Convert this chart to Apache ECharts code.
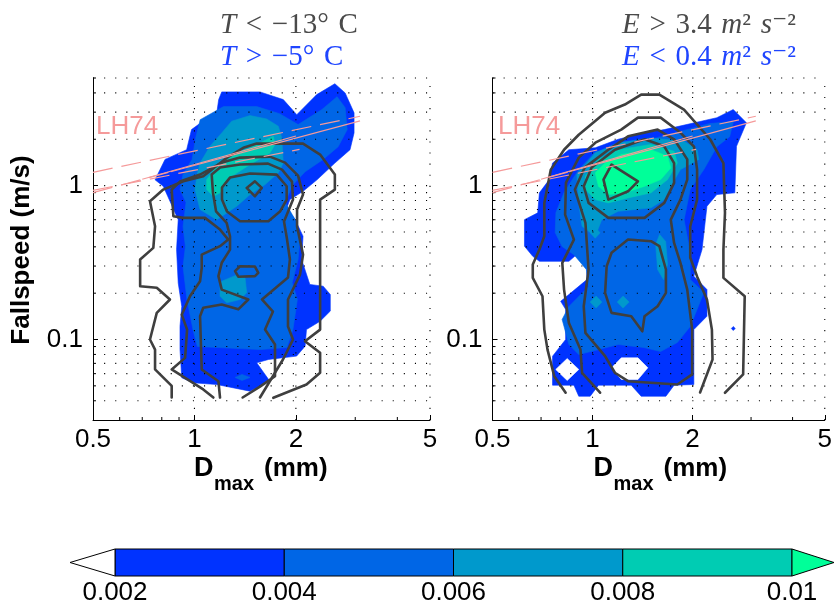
<!DOCTYPE html>
<html>
<head>
<meta charset="utf-8">
<script src="https://cdn.jsdelivr.net/npm/echarts@6/dist/echarts.min.js"></script>
<style>
  html, body { margin: 0; background: #fff; }
  #chart { width: 835px; height: 606px; }
</style>
</head>
<body>
<div id="chart"></div>
<script>
// axes (mm, m/s), both log10
const dRange = [0.5, 5];
const vRange = [0.03, 5];
const dTicks = [0.5, 1, 2, 5];
const vTicks = [0.1, 1];
const dGridVals = [1, 2, 5];
const dMinorTicks = [0.6, 0.7, 0.8, 0.9, 3, 4];
const vGridVals = [0.04, 0.05, 0.06, 0.07, 0.08, 0.09, 0.1, 0.2, 0.3, 0.4, 0.5, 0.6, 0.7, 0.8, 0.9, 1, 2, 3, 4, 5];

// contour levels / colorbar
const cbarBounds = [0.002, 0.004, 0.006, 0.008, 0.01];
const levelColors = ['#0033ff', '#0066e6', '#0099cc', '#00ccb3', '#00ff99'];

// ---- left panel: filled = T > -5 C, lines = T < -13 C  ([Dmax mm, v m/s])
const p1Fill1 = [[1.205,4.06],[1.565,4.06],[1.835,3.62],[2.012,2.89],[2.306,3.90],[2.61,4.59],[2.80,4.0],[2.976,2.97],[2.976,2.20],[2.895,1.71],[2.61,1.40],[2.31,1.09],[2.10,0.918],[1.92,0.811],[1.88,0.717],[1.99,0.601],[2.10,0.469],[2.08,0.331],[2.20,0.228],[2.41,0.222],[2.53,0.196],[2.53,0.153],[2.36,0.1315],[2.15,0.116],[2.13,0.0905],[2.01,0.078],[1.66,0.0742],[1.53,0.0706],[1.66,0.055],[1.565,0.0497],[1.46,0.0462],[1.165,0.051],[0.992,0.0523],[0.917,0.0564],[0.906,0.086],[0.906,0.122],[0.917,0.164],[0.895,0.233],[0.885,0.384],[0.895,0.601],[0.808,0.99],[0.764,1.09],[0.818,1.48],[0.948,1.71],[0.98,2.31],[1.075,2.68],[1.165,2.97],[1.18,3.62]];
const p1Fill2 = [[1.04,2.68],[1.22,3.26],[1.53,3.26],[1.79,2.93],[2.03,2.49],[2.39,3.12],[2.65,3.78],[2.80,3.21],[2.84,2.31],[2.67,1.79],[2.41,1.48],[2.13,1.23],[1.95,1.0],[1.86,0.776],[1.99,0.601],[2.06,0.466],[2.03,0.331],[1.95,0.234],[2.02,0.182],[1.96,0.116],[1.88,0.0887],[1.57,0.086],[1.02,0.090],[0.99,0.116],[0.95,0.182],[0.925,0.298],[0.94,0.402],[0.925,0.542],[0.944,0.776],[0.906,0.942],[0.925,1.18],[0.984,1.48],[1.01,2.08]];
const p1Fill2b = [[1.32,0.0567],[1.384,0.0593],[1.462,0.0567],[1.384,0.0542]];
const p1Fill3 = [[1.112,1.80],[1.205,2.20],[1.29,2.62],[1.462,2.85],[1.638,2.71],[1.774,2.43],[1.816,2.04],[1.835,1.40],[1.774,1.21],[1.62,1.015],[1.462,0.874],[1.335,0.734],[1.164,0.601],[1.039,0.699],[1.004,0.942],[1.016,1.149],[1.039,1.40]];
const p1Fill3b = [[1.205,0.239],[1.32,0.260],[1.413,0.252],[1.429,0.201],[1.365,0.182],[1.246,0.173],[1.191,0.191],[1.191,0.217]];
const p1Fill4 = [[1.087,1.094],[1.164,1.33],[1.304,1.59],[1.462,1.76],[1.601,1.94],[1.714,2.09],[1.734,1.85],[1.675,1.63],[1.462,1.37],[1.246,1.094],[1.191,0.897],[1.138,0.852],[1.087,0.942]];

const p1Line1 = [[0.856,0.042],[0.856,0.050],[0.764,0.064],[0.764,0.086],[0.738,0.100],[0.773,0.149],[0.846,0.182],[0.773,0.217],[0.690,0.222],[0.690,0.331],[0.755,0.394],[0.764,0.544],[0.738,0.791],[0.808,0.942],[0.927,1.066],[1.062,1.149],[1.246,1.513],[1.396,1.76],[1.53,1.874],[2.10,1.874],[2.36,1.59],[2.61,1.179],[2.61,0.942],[2.36,0.811],[2.36,0.384],[2.36,0.116],[2.128,0.0975],[2.36,0.082],[2.36,0.0608],[2.15,0.051],[1.714,0.0418]];
const p1Line2 = [[1.138,0.042],[1.062,0.0474],[0.856,0.0639],[0.938,0.076],[0.951,0.116],[0.917,0.145],[0.970,0.191],[1.039,0.239],[1.051,0.292],[1.051,0.356],[1.191,0.404],[1.26,0.446],[1.191,0.518],[1.075,0.617],[0.927,0.617],[0.866,0.632],[0.856,0.942],[0.906,1.062],[1.039,1.179],[1.207,1.41],[1.365,1.52],[1.675,1.543],[1.857,1.41],[2.03,1.161],[2.10,0.874],[2.016,0.699],[2.016,0.542],[2.10,0.356],[2.057,0.264],[1.895,0.182],[1.895,0.1215],[1.961,0.100],[1.831,0.0742],[1.565,0.042]];
const p1Line3 = [[1.191,0.042],[1.178,0.0536],[1.051,0.0639],[1.039,0.1417],[1.062,0.161],[1.205,0.169],[1.349,0.157],[1.445,0.182],[1.205,0.211],[1.178,0.258],[1.205,0.315],[1.275,0.384],[1.275,0.469],[1.246,0.573],[1.159,0.681],[1.135,0.897],[1.125,1.179],[1.191,1.309],[1.365,1.37],[1.653,1.39],[1.819,1.27],[1.947,1.062],[1.961,0.811],[1.844,0.584],[1.883,0.446],[1.92,0.331],[1.895,0.253],[1.586,0.182],[1.71,0.152],[1.62,0.116],[1.734,0.0928],[1.734,0.0577],[1.565,0.0494],[1.39,0.042]];
const p1Line4 = [[1.207,0.811],[1.249,0.678],[1.365,0.586],[1.657,0.586],[1.794,0.678],[1.878,0.811],[1.878,0.99],[1.754,1.179],[1.462,1.197],[1.275,1.127],[1.207,0.971],[1.207,0.811]];
const p1Line5 = [[1.32,0.278],[1.365,0.299],[1.512,0.298],[1.547,0.271],[1.512,0.258],[1.349,0.256],[1.32,0.278]];
const p1Line6 = [[1.429,0.966],[1.512,1.066],[1.584,0.966],[1.512,0.852],[1.429,0.966]];

// ---- right panel: filled = E < 0.4, lines = E > 3.4
const p2Fill1 = [[0.758,1.40],[0.849,1.71],[1.019,1.76],[1.195,2.0],[1.434,2.20],[1.644,2.31],[2.366,2.76],[2.652,3.12],[2.905,2.56],[2.712,1.80],[2.681,0.897],[2.366,0.874],[2.21,0.734],[2.136,0.384],[2.018,0.258],[2.21,0.211],[2.21,0.1417],[2.018,0.116],[2.018,0.051],[1.76,0.0505],[1.663,0.0428],[1.401,0.0428],[1.308,0.0505],[1.042,0.0505],[0.984,0.0428],[0.909,0.0428],[0.879,0.0505],[0.758,0.0505],[0.758,0.0779],[0.830,0.100],[0.830,0.157],[0.802,0.177],[0.962,0.245],[0.962,0.331],[0.920,0.375],[0.849,0.322],[0.692,0.322],[0.661,0.347],[0.624,0.404],[0.624,0.601],[0.684,0.665],[0.692,0.897],[0.741,1.094]];
const p2Fill2 = [[0.909,1.27],[1.020,1.66],[1.279,1.79],[1.603,2.08],[2.256,2.53],[2.654,2.61],[2.586,2.08],[2.366,1.79],[2.163,1.27],[1.968,0.942],[1.886,0.601],[1.968,0.367],[1.968,0.245],[2.163,0.202],[1.968,0.1215],[1.8,0.0956],[1.603,0.0836],[1.427,0.0887],[1.195,0.0928],[1.042,0.086],[0.909,0.0799],[0.849,0.0928],[0.81,0.135],[0.849,0.164],[0.973,0.221],[0.958,0.285],[0.879,0.356],[0.81,0.402],[0.772,0.495],[0.776,0.668],[0.821,0.901]];
const p2Fill3 = [[0.897,1.179],[1.019,1.63],[1.195,1.897],[1.50,2.04],[1.885,1.94],[2.064,1.71],[2.088,1.48],[1.839,1.27],[1.72,0.99],[1.644,0.811],[1.50,0.717],[1.195,0.681],[1.066,0.601],[1.019,0.469],[0.930,0.544],[0.909,0.772]];
const p2Fill3b = [[0.984,0.493],[1.019,0.534],[1.054,0.493],[1.019,0.455]];
const p2Fill3c = [[1.592,0.481],[1.66,0.433],[1.682,0.307],[1.636,0.245],[1.57,0.285],[1.549,0.414]];
const p2Fill3d = [[0.984,0.175],[1.025,0.1916],[1.067,0.175],[1.025,0.160]];
const p2Fill3e = [[1.187,0.175],[1.236,0.1916],[1.288,0.175],[1.236,0.160]];
const p2Fill4 = [[0.952,1.149],[1.042,1.48],[1.195,1.71],[1.50,1.85],[1.76,1.67],[1.8,1.40],[1.682,1.094],[1.50,0.897],[1.279,0.832],[1.116,0.772],[1.019,0.811],[0.952,0.942]];
const p2Fill5 = [[1.019,1.21],[1.091,1.40],[1.221,1.59],[1.50,1.71],[1.682,1.55],[1.72,1.303],[1.604,1.094],[1.434,0.99],[1.251,0.897],[1.116,0.874],[1.042,0.99]];
const p2Hole1 = [[0.775,0.0639],[0.839,0.0752],[0.909,0.0639],[0.839,0.0542]];
const p2Hole2 = [[1.141,0.0655],[1.221,0.076],[1.37,0.076],[1.467,0.0655],[1.37,0.055],[1.221,0.055]];
const p2Dot = [[2.617,0.118],[2.652,0.1215],[2.689,0.118],[2.652,0.1144]];

const p2Line1 = [[0.830,0.0451],[0.767,0.0578],[0.732,0.086],[0.716,0.116],[0.707,0.191],[0.661,0.2515],[0.661,0.307],[0.692,0.384],[0.716,0.469],[0.716,0.772],[0.749,1.27],[0.821,1.71],[0.909,2.14],[1.091,2.97],[1.251,3.36],[1.401,3.90],[1.589,3.90],[1.885,3.12],[2.26,2.0],[2.477,1.40],[2.504,0.665],[2.477,0.384],[2.477,0.2515],[2.871,0.191],[2.84,0.0593],[2.504,0.0451]];
const p2Line2 = [[1.054,0.0451],[0.930,0.0608],[0.920,0.086],[0.849,0.128],[0.821,0.211],[0.811,0.315],[0.879,0.446],[0.827,0.648],[0.832,1.046],[0.909,1.52],[1.020,1.90],[1.22,2.31],[1.37,2.765],[1.603,2.765],[1.838,2.21],[2.02,1.79],[2.064,1.27],[2.064,0.811],[1.968,0.542],[1.968,0.341],[2.064,0.257],[2.21,0.182],[2.287,0.116],[2.297,0.0742],[2.107,0.0453]];
const p2Line3 = [[1.116,1.71],[1.279,2.09],[1.57,2.31],[1.76,2.0],[1.928,1.48],[1.928,1.094],[1.839,0.811],[1.72,0.601],[1.76,0.424],[1.839,0.315],[1.928,0.211],[1.995,0.116],[1.995,0.0593],[1.8,0.051],[1.279,0.0536],[1.168,0.0608],[1.091,0.0779],[0.952,0.1105],[0.941,0.1645],[0.973,0.285],[0.952,0.573],[0.885,0.942],[0.947,1.309],[1.116,1.71]];
const p2Line4 = [[0.941,0.99],[0.994,1.309],[1.168,1.71],[1.434,2.0],[1.644,1.80],[1.76,1.40],[1.76,1.041],[1.644,0.772],[1.434,0.617],[1.116,0.617],[0.973,0.772],[0.941,0.99]];
const p2Line5 = [[1.079,1.094],[1.141,1.37],[1.37,1.066],[1.279,0.918],[1.116,0.811],[1.079,1.094]];
const p2Line6 = [[1.141,0.366],[1.279,0.446],[1.50,0.435],[1.589,0.404],[1.663,0.285],[1.663,0.201],[1.57,0.1645],[1.434,0.1417],[1.412,0.113],[1.308,0.1417],[1.141,0.149],[1.091,0.201],[1.103,0.299],[1.141,0.366]];

// LH74 fall speed relations (same on both panels)
const lhSolidA = [[0.85,1.23],[3.1,2.63]];
const lhDashA = [[0.5,0.90],[0.85,1.23]];
const lhSolidB = [[0.7,1.1],[2.0,2.1]];
const lhDashC = [[0.5,1.22],[3.1,2.82]];
const lhDashD = [[0.5,0.93],[2.05,1.72]];

const lg = Math.log10;
const L = p => [lg(p[0]), lg(p[1])];
const SANS = '"Liberation Sans", Arial, Helvetica, sans-serif';
const SERIF = '"Liberation Serif", "DejaVu Serif", serif';
const LINE_COLOR = '#3f3f3f';
const PINK = '#f59a9a';
const SP = '\u2004';

function fill(g, pts, color, z) {
  return {
    type: 'custom', xAxisIndex: g, yAxisIndex: g, z: z || 2, silent: true, clip: true,
    encode: { x: 0, y: 1 },
    data: pts.map(L),
    renderItem: (params, api) => params.dataIndex !== 0 ? null : {
      type: 'polygon',
      shape: { points: pts.map(p => api.coord(L(p))) },
      style: { fill: color, stroke: color, lineWidth: 0.6 }
    }
  };
}

function contour(g, pts) {
  return {
    type: 'line', xAxisIndex: g, yAxisIndex: g, z: 5, silent: true,
    data: pts.map(L), showSymbol: false, symbol: 'none',
    lineStyle: { color: LINE_COLOR, width: 2.6, join: 'round', cap: 'round' }
  };
}

function lh(g, pts, dashed) {
  return {
    type: 'line', xAxisIndex: g, yAxisIndex: g, z: 6, silent: true,
    data: pts.map(L), showSymbol: false, symbol: 'none',
    lineStyle: { color: PINK, width: 1.2, type: dashed ? [20, 9] : 'solid' }
  };
}

function gridLines(g) {
  const xMin = lg(dRange[0]), xMax = lg(dRange[1]);
  const yMin = lg(vRange[0]), yMax = lg(vRange[1]);
  const items = dGridVals.map(d => [lg(d), yMin, 0])
    .concat(vGridVals.map(v => [xMin, lg(v), vTicks.includes(v) ? 3 : 1]))
    .concat(dMinorTicks.map(d => [lg(d), yMin, 2]));
  return {
    type: 'custom', xAxisIndex: g, yAxisIndex: g, z: 4, silent: true, clip: false,
    encode: { x: 0, y: 1 },
    data: items,
    renderItem: (params, api) => {
      const k = api.value(2);
      const dot = { stroke: '#000', lineWidth: 1.1, lineDash: [1.1, 10] };
      if (k === 0) {
        const a = api.coord([api.value(0), yMin]), b = api.coord([api.value(0), yMax]);
        return { type: 'line', shape: { x1: a[0], y1: a[1], x2: b[0], y2: b[1] }, style: dot };
      }
      if (k === 2) {
        const a = api.coord([api.value(0), yMin]);
        return { type: 'line', shape: { x1: a[0], y1: a[1], x2: a[0], y2: a[1] - 3 }, style: { stroke: '#000', lineWidth: 1 } };
      }
      const a = api.coord([xMin, api.value(1)]), b = api.coord([xMax, api.value(1)]);
      const children = [{ type: 'line', shape: { x1: a[0], y1: a[1], x2: b[0], y2: b[1] }, style: dot }];
      if (k === 1) children.push({ type: 'line', shape: { x1: a[0], y1: a[1], x2: a[0] + 3, y2: a[1] }, style: { stroke: '#000', lineWidth: 1 } });
      return { type: 'group', children };
    }
  };
}

const fmtPow = v => String(+Math.pow(10, v).toPrecision(3));

function xAx(g) {
  return {
    type: 'value', gridIndex: g, min: lg(dRange[0]), max: lg(dRange[1]),
    axisLine: { show: true, onZero: false, lineStyle: { color: '#000', width: 1 } },
    axisTick: { show: true, inside: true, length: 5, customValues: dTicks.map(lg), lineStyle: { color: '#000' } },
    axisLabel: { customValues: dTicks.map(lg), formatter: fmtPow, fontSize: 26, fontFamily: SANS, color: '#000', margin: 7 },
    splitLine: { show: false }
  };
}
function yAx(g) {
  return {
    type: 'value', gridIndex: g, min: lg(vRange[0]), max: lg(vRange[1]),
    axisLine: { show: true, onZero: false, lineStyle: { color: '#000', width: 1 } },
    axisTick: { show: true, inside: true, length: 5, customValues: vTicks.map(lg), lineStyle: { color: '#000' } },
    axisLabel: { customValues: vTicks.map(lg), formatter: fmtPow, fontSize: 26, fontFamily: SANS, color: '#000', margin: 10 },
    splitLine: { show: false }
  };
}

const cbarItems = cbarBounds.slice(0, -1).map((b, i) => [b, cbarBounds[i + 1], i])
  .concat([[cbarBounds[0], cbarBounds[0], -1], [cbarBounds[cbarBounds.length - 1], cbarBounds[cbarBounds.length - 1], 4]]);

const series = [
  fill(0, p1Fill1, levelColors[0]), fill(0, p1Fill2, levelColors[1]), fill(0, p1Fill2b, levelColors[1]),
  fill(0, p1Fill3, levelColors[2]), fill(0, p1Fill3b, levelColors[2]), fill(0, p1Fill4, levelColors[3]),
  gridLines(0),
  contour(0, p1Line1), contour(0, p1Line2), contour(0, p1Line3), contour(0, p1Line4), contour(0, p1Line5), contour(0, p1Line6),
  lh(0, lhSolidA, false), lh(0, lhDashA, true), lh(0, lhSolidB, false), lh(0, lhDashC, true), lh(0, lhDashD, true),

  fill(1, p2Fill1, levelColors[0]), fill(1, p2Dot, levelColors[0]), fill(1, p2Fill2, levelColors[1]),
  fill(1, p2Fill3, levelColors[2]), fill(1, p2Fill3b, levelColors[2]), fill(1, p2Fill3c, levelColors[2]),
  fill(1, p2Fill3d, levelColors[2]), fill(1, p2Fill3e, levelColors[2]),
  fill(1, p2Fill4, levelColors[3]), fill(1, p2Fill5, levelColors[4]),
  fill(1, p2Hole1, '#ffffff', 3), fill(1, p2Hole2, '#ffffff', 3),
  gridLines(1),
  contour(1, p2Line1), contour(1, p2Line2), contour(1, p2Line3), contour(1, p2Line4), contour(1, p2Line5), contour(1, p2Line6),
  lh(1, lhSolidA, false), lh(1, lhDashA, true), lh(1, lhSolidB, false), lh(1, lhDashC, true), lh(1, lhDashD, true),

  {
    type: 'custom', xAxisIndex: 2, yAxisIndex: 2, clip: false, silent: true,
    encode: { x: [0, 1] },
    data: cbarItems,
    renderItem: (params, api) => {
      const lo = api.value(0), hi = api.value(1), k = api.value(2);
      const a = api.coord([lo, 1]), b = api.coord([hi, 0]);
      const mid = (a[1] + b[1]) / 2;
      if (k < 0) {
        return { type: 'polygon', shape: { points: [[a[0], a[1]], [a[0], b[1]], [a[0] - 45, mid]] }, style: { fill: '#fff', stroke: '#000', lineWidth: 1 } };
      }
      if (k === levelColors.length - 1) {
        return { type: 'polygon', shape: { points: [[a[0], a[1]], [a[0], b[1]], [a[0] + 42, mid]] }, style: { fill: levelColors[k], stroke: '#000', lineWidth: 1 } };
      }
      return { type: 'rect', shape: { x: a[0], y: a[1], width: b[0] - a[0], height: b[1] - a[1] }, style: { fill: levelColors[k], stroke: '#000', lineWidth: 1 } };
    }
  }
];

function mathText(x, y, text, color) {
  return {
    type: 'text', x, y, z: 10, silent: true,
    style: {
      text, fill: color, font: '29px ' + SERIF, verticalAlign: 'middle',
      rich: { i: { fontStyle: 'italic', fontSize: 29, fontFamily: SERIF, fill: color } }
    }
  };
}
function plain(x, y, text, font, color) {
  return { type: 'text', x, y, z: 10, silent: true,
    style: { text, font, fill: color, verticalAlign: 'middle' } };
}

const graphic = [
  mathText(220, 25, '{i|T}' + SP + '<' + SP + '−13°' + SP + 'C', '#4a4a4a'),
  mathText(220, 57, '{i|T}' + SP + '>' + SP + '−5°' + SP + 'C', '#1f45ff'),
  mathText(622, 25, '{i|E}' + SP + '>' + SP + '3.4' + SP + '{i|m}²' + SP + '{i|s}⁻²', '#4a4a4a'),
  mathText(622, 57, '{i|E}' + SP + '<' + SP + '0.4' + SP + '{i|m}²' + SP + '{i|s}⁻²', '#1f45ff'),
  plain(96, 127, 'LH74', '26px ' + SANS, PINK),
  plain(498, 127, 'LH74', '26px ' + SANS, PINK),
  {
    type: 'text', x: 22, y: 250, rotation: Math.PI / 2, z: 10, silent: true,
    style: { text: 'Fallspeed (m/s)', font: 'bold 26px ' + SANS, fill: '#000', align: 'center', verticalAlign: 'middle' }
  }
];
[0, 399.5].forEach(off => {
  graphic.push(plain(194 + off, 469, 'D', 'bold 27px ' + SANS, '#000'));
  graphic.push(plain(214 + off, 484, 'max', 'bold 20px ' + SANS, '#000'));
  graphic.push(plain(264 + off, 469, '(mm)', 'bold 26px ' + SANS, '#000'));
});

const chart = echarts.init(document.getElementById('chart'));
chart.setOption({
  animation: false,
  backgroundColor: '#fff',
  grid: [
    { left: 93, top: 78, width: 337, height: 342 },
    { left: 492.5, top: 78, width: 337, height: 342 },
    { left: 115, top: 549, width: 677, height: 27 }
  ],
  xAxis: [
    xAx(0), xAx(1),
    {
      type: 'value', gridIndex: 2, min: cbarBounds[0], max: cbarBounds[cbarBounds.length - 1], interval: 0.002,
      axisLine: { show: false }, axisTick: { show: false }, splitLine: { show: false },
      axisLabel: { fontSize: 26, fontFamily: SANS, color: '#000', margin: 4, formatter: v => String(+v.toFixed(3)) }
    }
  ],
  yAxis: [
    yAx(0), yAx(1),
    { type: 'value', gridIndex: 2, min: 0, max: 1, show: false }
  ],
  series,
  graphic
});
</script>
</body>
</html>
